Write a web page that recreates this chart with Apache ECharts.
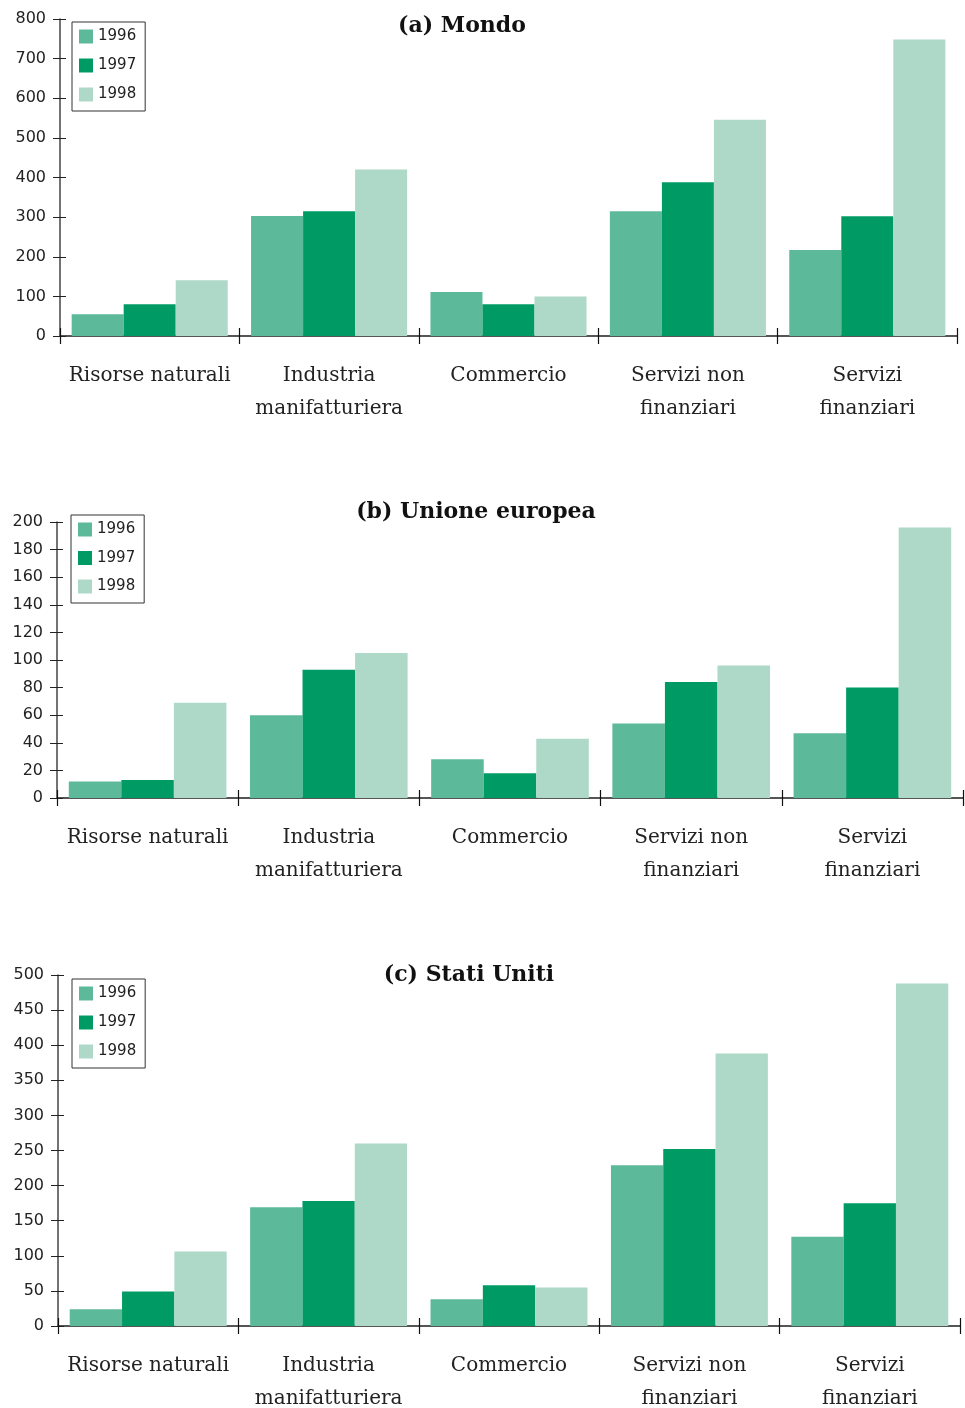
<!DOCTYPE html>
<html>
<head>
<meta charset="utf-8">
<script src="https://cdn.jsdelivr.net/npm/echarts@6/dist/echarts.min.js"></script>
<style>
  html, body { margin: 0; padding: 0; background: #fff; }
  #chart { width: 965px; height: 1408px; }
</style>
</head>
<body>
<div id="chart"></div>
<script>
// categorie (asse x) e anni
var categorie = ['Risorse naturali', 'Industria\nmanifatturiera', 'Commercio', 'Servizi non\nfinanziari', 'Servizi\nfinanziari'];
var anni = ['1996', '1997', '1998'];

// (a) Mondo
var mondo1996 = [55, 303, 111, 315, 217];
var mondo1997 = [80, 315, 80, 388, 302];
var mondo1998 = [141, 420, 100, 546, 748];

// (b) Unione europea
var ue1996 = [12, 60, 28, 54, 47];
var ue1997 = [13, 93, 18, 84, 80];
var ue1998 = [69, 105, 43, 96, 196];

// (c) Stati Uniti
var usa1996 = [24, 169, 38, 229, 127];
var usa1997 = [49, 178, 58, 252, 175];
var usa1998 = [106, 260, 55, 388, 488];

var titoli = ['(a) Mondo', '(b) Unione europea', '(c) Stati Uniti'];
var colori = ['#5cb99a', '#009b65', '#aed9c8'];

var pannelli = [
  { dati: [mondo1996, mondo1997, mondo1998], max: 800, step: 100,
    grid: { left: 60, right: 8, top: 19, height: 317 },
    titolo: { x: 457, y: 10 }, legenda: { x: 72, y: 22, gap: 14 } },
  { dati: [ue1996, ue1997, ue1998], max: 200, step: 20,
    grid: { left: 57, right: 2, top: 522, height: 276 },
    titolo: { x: 471, y: 496 }, legenda: { x: 71, y: 515, gap: 13.5 } },
  { dati: [usa1996, usa1997, usa1998], max: 500, step: 50,
    grid: { left: 58, right: 5, top: 975, height: 351 },
    titolo: { x: 464, y: 959 }, legenda: { x: 72, y: 979, gap: 14 } }
];

var option = {
  animation: false,
  color: colori,
  title: [], legend: [], grid: [], xAxis: [], yAxis: [], series: []
};

pannelli.forEach(function (p, i) {
  option.title.push({
    text: titoli[i], left: p.titolo.x, top: p.titolo.y, textAlign: 'center',
    textStyle: { fontFamily: 'DejaVu Serif', fontWeight: 'bold', fontSize: 22, color: '#111' }
  });
  option.legend.push({
    data: anni, orient: 'vertical', left: p.legenda.x, top: p.legenda.y,
    icon: 'rect', itemWidth: 14, itemHeight: 14, itemGap: p.legenda.gap,
    padding: [7, 9, 9, 7], borderColor: '#333', borderWidth: 1,
    selectedMode: false,
    textStyle: { fontFamily: 'DejaVu Sans', fontSize: 15, color: '#222' }
  });
  // niente ridimensionamento automatico per far stare le etichette
  p.grid.outerBoundsMode = 'none';
  option.grid.push(p.grid);
  // asse x principale con etichette e tacche verso il basso
  option.xAxis.push({
    type: 'category', gridIndex: i, data: categorie, position: 'bottom',
    axisLine: { lineStyle: { color: '#555', width: 2 } },
    axisTick: { show: true, interval: 0, length: 8, lineStyle: { color: '#111', width: 1.2 } },
    axisLabel: { interval: 0, margin: 23, fontFamily: 'DejaVu Serif', fontSize: 20, lineHeight: 33, color: '#222' }
  });
  // secondo asse x: solo tacche verso l'alto
  option.xAxis.push({
    type: 'category', gridIndex: i, data: categorie, position: 'bottom',
    axisLine: { show: false },
    axisTick: { show: true, interval: 0, inside: true, length: 8, lineStyle: { color: '#111', width: 1.2 } },
    axisLabel: { show: false }
  });
  option.yAxis.push({
    type: 'value', gridIndex: i, min: 0, max: p.max, interval: p.step, position: 'left',
    splitLine: { show: false },
    axisLine: { show: true, lineStyle: { color: '#444', width: 1.5 } },
    axisTick: { show: true, length: 7, lineStyle: { color: '#222' } },
    axisLabel: { margin: 14, fontFamily: 'DejaVu Sans', fontSize: 16, color: '#222' }
  });
  option.yAxis.push({
    type: 'value', gridIndex: i, min: 0, max: p.max, interval: p.step, position: 'left',
    splitLine: { show: false },
    axisLine: { show: false },
    axisTick: { show: true, inside: true, length: 6, lineStyle: { color: '#222' } },
    axisLabel: { show: false }
  });
  for (var k = 0; k < anni.length; k++) {
    option.series.push({
      name: anni[k], type: 'bar', xAxisIndex: 2 * i, yAxisIndex: 2 * i,
      data: p.dati[k], barGap: '0%', barCategoryGap: '13%',
      itemStyle: { color: colori[k] }
    });
  }
});

var chart = echarts.init(document.getElementById('chart'));
chart.setOption(option);
</script>
</body>
</html>
